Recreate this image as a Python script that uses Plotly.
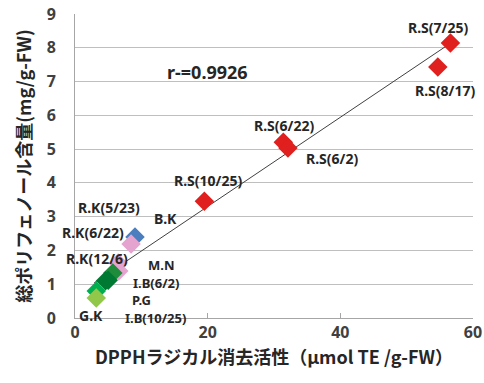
import numpy as np
import plotly.graph_objects as go

names = ["R.S(7/25)", "R.S(8/17)", "R.S(6/22)", "R.S(6/2)", "R.S(10/25)",
         "B.K", "R.K(5/23)", "R.K(6/22)", "R.K(12/6)",
         "M.N", "I.B(6/2)", "I.B(10/25)", "P.G", "G.K"]
dpph = [56.6, 54.7, 31.4, 32.1, 19.5, 9.05, 8.45, 6.5, 6.6, 5.7, 5.0, 4.6, 3.2, 3.2]
poly = [8.14, 7.43, 5.20, 5.03, 3.46, 2.40, 2.19, 1.63, 1.39, 1.33, 1.12, 1.10, 0.80, 0.59]
colors = ["#E0201E", "#E0201E", "#E0201E", "#E0201E", "#E0201E",
          "#4A7EBF", "#E5A3CF", "#E5A3CF", "#E5A3CF",
          "#1E8C3A", "#007A33", "#007A33", "#00B050", "#92C84A"]

label_x = [54.7, 55.8, 31.5, 38.7, 20.0, 13.6, 5.1, 2.7, 3.3, 13.0, 12.2, 12.2, 10.0, 2.4]
label_y = [8.61, 6.75, 5.71, 4.71, 4.06, 2.96, 3.26, 2.52, 1.75, 1.57, 1.04, 0.0, 0.53, 0.06]

r_text = "r-=0.9926"
x_ticks = [0, 20, 40, 60]
y_ticks = list(range(0, 10))

x_title = "DPPHラジカル消去活性（μmol TE /g-FW）"
y_title = "総ポリフェノール含量(mg/g-FW)"

fig = go.Figure()

coef = np.polyfit(dpph, poly, 1)
xl = np.array([min(dpph) - 0.3, max(dpph)])
fig.add_trace(go.Scatter(x=xl, y=np.polyval(coef, xl), mode="lines",
                         line=dict(color="#404040", width=1), showlegend=False,
                         hoverinfo="skip"))

fig.add_trace(go.Scatter(x=dpph, y=poly, mode="markers",
                         marker=dict(symbol="diamond", size=15, color=colors,
                                     line=dict(width=0)),
                         text=names, showlegend=False, cliponaxis=False))

lab_font = dict(family="Noto Sans, Noto Sans CJK JP", size=14, color="#262626", weight="bold")
small_font = dict(lab_font, size=13)
tight = {"M.N", "I.B(6/2)", "I.B(10/25)", "P.G"}
for n, lx, ly in zip(names, label_x, label_y):
    fig.add_annotation(x=lx, y=ly, text=n, showarrow=False,
                       font=small_font if n in tight else lab_font,
                       xanchor="center", yanchor="middle", borderpad=0)
fig.add_annotation(x=20.0, y=7.28, text=r_text, showarrow=False,
                   font=dict(family="Noto Sans", size=18, color="#262626", weight="bold"))

fig.update_layout(
    width=484, height=383,
    margin=dict(l=75, r=11, t=14, b=65, autoexpand=False),
    plot_bgcolor="white", paper_bgcolor="white",
    xaxis=dict(range=[0, 60], tickvals=x_ticks, showgrid=False, zeroline=False,
               showline=True, linecolor="#A6A6A6", linewidth=1, automargin=False,
               ticks="inside", ticklen=5, tickcolor="#A6A6A6",
               tickfont=dict(family="Noto Sans", size=16, color="#404040", weight="bold"),
               title=dict(text=x_title, standoff=8,
                          font=dict(family="Noto Sans CJK JP", size=18, color="#262626", weight="bold"))),
    yaxis=dict(range=[0, 9], tickvals=y_ticks, showgrid=True, gridcolor="#BFBFBF",
               gridwidth=1, zeroline=False, showline=True, linecolor="#A6A6A6",
               linewidth=1, ticks="", ticklabelstandoff=15, automargin=False,
               tickfont=dict(family="Noto Sans", size=16, color="#404040", weight="bold"),
               title=dict(text=y_title, standoff=10,
                          font=dict(family="Noto Sans CJK JP", size=18, color="#262626", weight="bold"))),
)

fig.write_html("out.html", config={"displayModeBar": False},
               post_script="document.body.style.margin='0';")
